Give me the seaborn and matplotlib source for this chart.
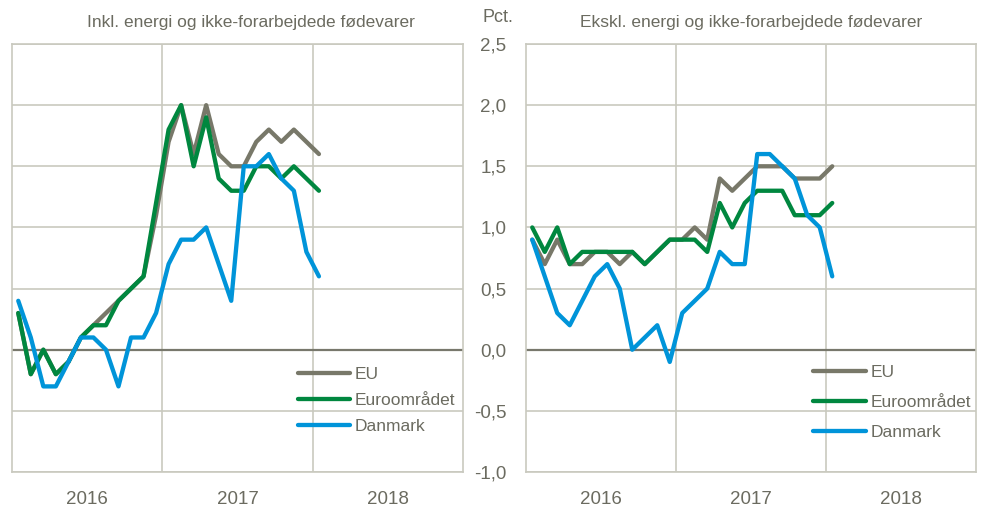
import numpy as np
import pandas as pd
import matplotlib
matplotlib.use('Agg')
import matplotlib.pyplot as plt
import seaborn as sns

# Monthly values, Jan 2016 - Jan 2018
n_months = 25
series = ['EU', 'Euroområdet', 'Danmark']

# Inkl. energi og ikke-forarbejdede fødevarer
inkl_eu = [0.3, -0.2, 0.0, -0.2, -0.1, 0.1, 0.2, 0.3, 0.4, 0.5, 0.6, 1.1, 1.7,
           2.0, 1.6, 2.0, 1.6, 1.5, 1.5, 1.7, 1.8, 1.7, 1.8, 1.7, 1.6]
inkl_euro = [0.3, -0.2, 0.0, -0.2, -0.1, 0.1, 0.2, 0.2, 0.4, 0.5, 0.6, 1.2, 1.8,
             2.0, 1.5, 1.9, 1.4, 1.3, 1.3, 1.5, 1.5, 1.4, 1.5, 1.4, 1.3]
inkl_dk = [0.4, 0.1, -0.3, -0.3, -0.1, 0.1, 0.1, 0.0, -0.3, 0.1, 0.1, 0.3, 0.7,
           0.9, 0.9, 1.0, 0.7, 0.4, 1.5, 1.5, 1.6, 1.4, 1.3, 0.8, 0.6]

# Ekskl. energi og ikke-forarbejdede fødevarer
ekskl_eu = [0.9, 0.7, 0.9, 0.7, 0.7, 0.8, 0.8, 0.7, 0.8, 0.7, 0.8, 0.9, 0.9,
            1.0, 0.9, 1.4, 1.3, 1.4, 1.5, 1.5, 1.5, 1.4, 1.4, 1.4, 1.5]
ekskl_euro = [1.0, 0.8, 1.0, 0.7, 0.8, 0.8, 0.8, 0.8, 0.8, 0.7, 0.8, 0.9, 0.9,
              0.9, 0.8, 1.2, 1.0, 1.2, 1.3, 1.3, 1.3, 1.1, 1.1, 1.1, 1.2]
ekskl_dk = [0.9, 0.6, 0.3, 0.2, 0.4, 0.6, 0.7, 0.5, 0.0, 0.1, 0.2, -0.1, 0.3,
            0.4, 0.5, 0.8, 0.7, 0.7, 1.6, 1.6, 1.5, 1.4, 1.1, 1.0, 0.6]

titles = ['Inkl. energi og ikke-forarbejdede fødevarer',
          'Ekskl. energi og ikke-forarbejdede fødevarer']
years = [2016, 2017, 2018]
yticks = [-1.0, -0.5, 0.0, 0.5, 1.0, 1.5, 2.0, 2.5]

colors = {'EU': '#787869', 'Euroområdet': '#00873f', 'Danmark': '#0094d9'}
text_col = '#6b6b60'
grid_col = '#c9c9bf'
zero_col = '#78786c'

# month midpoints as fractional years
x = 2016 + (np.arange(n_months) + 0.5) / 12


def make_df(eu, euro, dk):
    frames = []
    for name, vals in zip(series, [eu, euro, dk]):
        frames.append(pd.DataFrame({'x': x, 'value': vals, 'serie': name}))
    return pd.concat(frames, ignore_index=True)


sns.set_theme(style='white')
plt.rcParams['font.family'] = ['Liberation Sans', 'DejaVu Sans']

fig = plt.figure(figsize=(9.83, 5.11), dpi=100)
W, H = 983, 511
ax1 = fig.add_axes([12 / W, 1 - 472 / H, 451 / W, 428 / H])
ax2 = fig.add_axes([526 / W, 1 - 472 / H, 450 / W, 428 / H])

data = [make_df(inkl_eu, inkl_euro, inkl_dk), make_df(ekskl_eu, ekskl_euro, ekskl_dk)]
leg_pos = [(0.599, 0.283, 0.64), (0.604, 0.287, 0.85)]

for ax, df, (lx, ly, lsp) in zip([ax1, ax2], data, leg_pos):
    sns.lineplot(data=df, x='x', y='value', hue='serie', palette=colors,
                 hue_order=series, linewidth=3.1, ax=ax, legend=True)
    ax.set_xlim(2016, 2019)
    ax.set_ylim(-1.0, 2.5)
    ax.set_yticks(yticks)
    ax.set_xticks([2017, 2018])
    ax.set_xticks([y + 0.5 for y in years], minor=True)
    ax.set_xticklabels([])
    ax.set_xticklabels([str(y) for y in years], minor=True)
    ax.grid(True, which='major', color=grid_col, linewidth=1.2)
    ax.axhline(0, color=zero_col, linewidth=1.6, zorder=1.5)
    ax.tick_params(which='both', length=0, colors=text_col, labelsize=13.5)
    ax.tick_params(axis='x', which='minor', pad=14)
    for sp in ax.spines.values():
        sp.set_color(grid_col)
        sp.set_linewidth(1.2)
    ax.set_xlabel('')
    ax.set_ylabel('')
    leg = ax.legend(loc='upper left', bbox_to_anchor=(lx, ly), frameon=False,
                    handlelength=3.0, handletextpad=0.28, labelspacing=lsp,
                    fontsize=12.5)
    for t in leg.get_texts():
        t.set_color(text_col)
    for h in leg.get_lines():
        h.set_linewidth(3.1)

ax1.set_yticklabels([])
ax2.set_yticklabels([f'{v:.1f}'.replace('.', ',') for v in yticks])
ax2.tick_params(axis='y', pad=14)

fig.text(251 / W, 1 - 22 / H, titles[0], ha='center', va='center', color=text_col, fontsize=12.5)
fig.text(751 / W, 1 - 22 / H, titles[1], ha='center', va='center', color=text_col, fontsize=12.5)
fig.text(483 / W, 1 - 18 / H, 'Pct.', ha='left', va='center', color=text_col, fontsize=13)

fig.savefig('out.png', dpi=100)
